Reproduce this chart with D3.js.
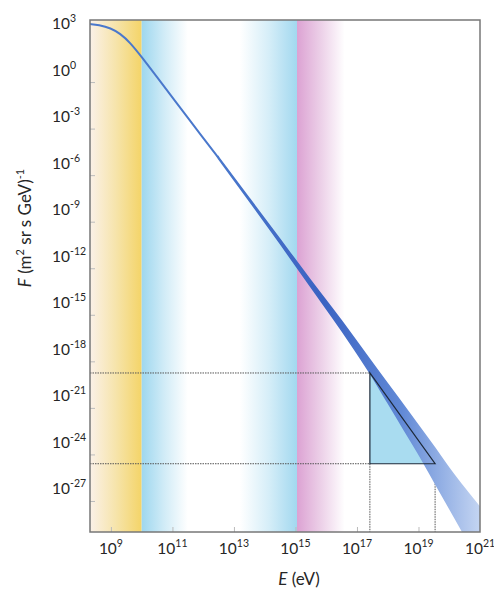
<!DOCTYPE html>
<html>
<head>
<meta charset="utf-8">
<script src="https://cdn.jsdelivr.net/npm/d3@7"></script>
<style>
  body { margin: 0; background: #fff; }
  text { font-family: Lato, 'Open Sans', sans-serif; fill: #262626; }
</style>
</head>
<body>
<div id="chart"></div>
<script>
// all values are log10: energy in eV, flux in (m^2 sr s GeV)^-1
const lowEnergy = [8.32, 8.6, 9.0, 9.3, 9.62, 10.0, 10.5, 11.0, 12.0, 12.5]
const lowFlux = [2.74, 2.68, 2.48, 2.12, 1.56, 0.62, -0.68, -2.0, -4.6, -5.9]

const bandEnergy = [12.5, 13.5, 14.5, 15.5, 16.5, 17.42, 18.0, 18.5, 19.0, 19.5, 20.0, 20.5, 21.03]
const bandUpper = [-5.85, -8.5, -11.15, -13.8, -16.4, -18.9, -20.45, -21.8, -23.15, -24.5, -25.9, -27.2, -28.5]
const bandLower = [-5.95, -8.65, -11.4, -14.2, -17.0, -19.75, -21.65, -23.3, -24.95, -26.7, -28.45, -30.2, -32.1]

// triangle corners (energy range and flux range)
const triEnergy = [17.42, 19.54]
const triFlux = [-19.75, -25.6]

// shaded energy regions
const regionFrom = [8.32, 10.0, 13.2, 15.05]
const regionTo = [10.0, 11.5, 15.05, 16.6]

const xTickExp = [9, 11, 13, 15, 17, 19, 21]
const yTickExp = [3, 0, -3, -6, -9, -12, -15, -18, -21, -24, -27]
const yMinorExp = [-1, -4, -7, -10, -13, -16, -19, -22, -25, -28]

const dimensions = {
  width: 494,
  height: 590,
  left: 90,
  right: 480,
  top: 20,
  bottom: 532,
}

const svg = d3
  .select('#chart')
  .append('svg')
  .attr('width', dimensions.width)
  .attr('height', dimensions.height)

const xScale = d3
  .scaleLog()
  .domain([10 ** 8.32, 1e21])
  .range([dimensions.left, dimensions.right])

const yScale = d3
  .scaleLog()
  .domain([1e-30, 1e3])
  .range([dimensions.bottom, dimensions.top])

const xE = (e) => xScale(10 ** e)
const yF = (f) => yScale(10 ** f)

const defs = svg.append('defs')

defs
  .append('clipPath')
  .attr('id', 'plot-clip')
  .append('rect')
  .attr('x', dimensions.left)
  .attr('y', dimensions.top)
  .attr('width', dimensions.right - dimensions.left)
  .attr('height', dimensions.bottom - dimensions.top)

// gradients for the background regions
const regionColors = [
  ['#fbf1e8', '#f6e4ab', '#f4d468'],
  ['#9ed7ef', '#d2ecf7', '#ffffff'],
  ['#ffffff', '#d6eef8', '#a2d8ef'],
  ['#dca2d3', '#ecd0e8', '#ffffff'],
]
regionColors.forEach((cols, i) => {
  const g = defs
    .append('linearGradient')
    .attr('id', 'region' + i)
    .attr('x1', '0%')
    .attr('x2', '100%')
    .attr('y1', '0%')
    .attr('y2', '0%')
  g.selectAll('stop')
    .data(cols)
    .join('stop')
    .attr('offset', (d, j) => (100 * j) / (cols.length - 1) + '%')
    .style('stop-color', (d) => d)
})

// gradient for the spectrum band
const bandGrad = defs
  .append('linearGradient')
  .attr('id', 'band-grad')
  .attr('gradientUnits', 'userSpaceOnUse')
  .attr('x1', xE(12.5))
  .attr('x2', xE(21))
  .attr('y1', 0)
  .attr('y2', 0)
bandGrad
  .selectAll('stop')
  .data([
    [0, '#4a78cc'],
    [0.4, '#3a62c2'],
    [0.7, '#6189d6'],
    [1, '#c4d5f2'],
  ])
  .join('stop')
  .attr('offset', (d) => d[0])
  .style('stop-color', (d) => d[1])

const plot = svg.append('g').attr('clip-path', 'url(#plot-clip)')

plot
  .selectAll('.region')
  .data(regionFrom)
  .join('rect')
  .attr('class', 'region')
  .attr('x', (d) => xE(d))
  .attr('y', dimensions.top)
  .attr('width', (d, i) => xE(regionTo[i]) - xE(d))
  .attr('height', dimensions.bottom - dimensions.top)
  .attr('fill', (d, i) => `url(#region${i})`)

// triangle fill
const tri = [
  [triEnergy[0], triFlux[0]],
  [triEnergy[0], triFlux[1]],
  [triEnergy[1], triFlux[1]],
]
const triLine = d3
  .line()
  .x((d) => xE(d[0]))
  .y((d) => yF(d[1]))

plot
  .append('path')
  .datum(tri)
  .attr('d', triLine.curve(d3.curveLinearClosed))
  .attr('fill', '#a9dcf0')

// guide lines from the triangle to the axes
const guides = [
  [[8.32, triFlux[0]], [triEnergy[0], triFlux[0]]],
  [[8.32, triFlux[1]], [triEnergy[0], triFlux[1]]],
  [[triEnergy[0], triFlux[1]], [triEnergy[0], -30]],
  [[triEnergy[1], triFlux[1]], [triEnergy[1], -30]],
]
plot
  .selectAll('.guide')
  .data(guides)
  .join('path')
  .attr('class', 'guide')
  .attr('d', d3.line().x((d) => xE(d[0])).y((d) => yF(d[1])))
  .attr('fill', 'none')
  .attr('stroke', '#555')
  .attr('stroke-width', 1)
  .attr('stroke-dasharray', '1.5,1')

// low energy spectrum line
const lowData = lowEnergy.map((e, i) => [e, lowFlux[i]])
plot
  .append('path')
  .datum(lowData)
  .attr('d', d3.line().x((d) => xE(d[0])).y((d) => yF(d[1])).curve(d3.curveBasis))
  .attr('fill', 'none')
  .attr('stroke', '#4a78cc')
  .attr('stroke-width', 2)

// high energy band
const bandData = bandEnergy.map((e, i) => [e, bandUpper[i], bandLower[i]])
const areaGenerator = d3
  .area()
  .x((d) => xE(d[0]))
  .y0((d) => yF(d[2]))
  .y1((d) => yF(d[1]))
  .curve(d3.curveMonotoneX)

plot
  .append('path')
  .datum(bandData)
  .attr('d', areaGenerator)
  .attr('fill', 'url(#band-grad)')
  .attr('stroke', 'url(#band-grad)')
  .attr('stroke-width', 1.5)

// triangle outline
plot
  .append('path')
  .datum(tri)
  .attr('d', triLine.curve(d3.curveLinearClosed))
  .attr('fill', 'none')
  .attr('stroke', '#1e2a3a')
  .attr('stroke-width', 1.2)

// inner ticks
svg
  .append('g')
  .attr('transform', `translate(0, ${dimensions.bottom})`)
  .call(
    d3.axisBottom(xScale)
      .tickValues(xTickExp.slice(0, -1).map((e) => 10 ** e))
      .tickSize(-5)
      .tickFormat('')
  )
  .call((g) => g.select('.domain').remove())
  .call((g) => g.selectAll('.tick line').attr('stroke', '#bbb'))

svg
  .append('g')
  .attr('transform', `translate(${dimensions.left}, 0)`)
  .call(
    d3.axisLeft(yScale)
      .tickValues(yMinorExp.map((e) => 10 ** e))
      .tickSize(-5)
      .tickFormat('')
  )
  .call((g) => g.select('.domain').remove())
  .call((g) => g.selectAll('.tick line').attr('stroke', '#bbb'))

// frame
svg
  .append('rect')
  .attr('x', dimensions.left)
  .attr('y', dimensions.top)
  .attr('width', dimensions.right - dimensions.left)
  .attr('height', dimensions.bottom - dimensions.top)
  .attr('fill', 'none')
  .attr('stroke', '#777')
  .attr('stroke-width', 1.5)

// power-of-ten labels
const powerLabel = (sel, exp) => {
  sel.append('tspan').text('10')
  sel.append('tspan').attr('dy', -7).attr('font-size', 10.5).text(exp < 0 ? '-' + -exp : exp)
}

svg
  .selectAll('.xlabel')
  .data(xTickExp)
  .join('text')
  .attr('class', 'xlabel')
  .attr('x', (d) => xE(d))
  .attr('y', dimensions.bottom + 22)
  .attr('text-anchor', 'middle')
  .attr('font-size', 15.5)
  .each(function (d) {
    powerLabel(d3.select(this), d)
  })

svg
  .selectAll('.ylabel')
  .data(yTickExp)
  .join('text')
  .attr('class', 'ylabel')
  .attr('x', 52)
  .attr('y', (d) => yF(d) + 9)
  .attr('font-size', 15.5)
  .each(function (d) {
    powerLabel(d3.select(this), d)
  })

// axis titles
const xTitle = svg
  .append('text')
  .attr('x', 299)
  .attr('y', 585)
  .attr('text-anchor', 'middle')
  .attr('font-size', 17)
xTitle.append('tspan').attr('font-style', 'italic').text('E')
xTitle.append('tspan').text(' (eV)')

const yTitle = svg
  .append('text')
  .attr('transform', 'translate(31, 228) rotate(-90)')
  .attr('text-anchor', 'middle')
  .attr('font-size', 17)
yTitle.append('tspan').attr('font-style', 'italic').text('F')
yTitle.append('tspan').text(' (m')
yTitle.append('tspan').attr('dy', -7).attr('font-size', 11).text('2')
yTitle.append('tspan').attr('dy', 7).text(' sr s GeV)')
yTitle.append('tspan').attr('dy', -7).attr('font-size', 11).text('-1')
</script>
</body>
</html>
